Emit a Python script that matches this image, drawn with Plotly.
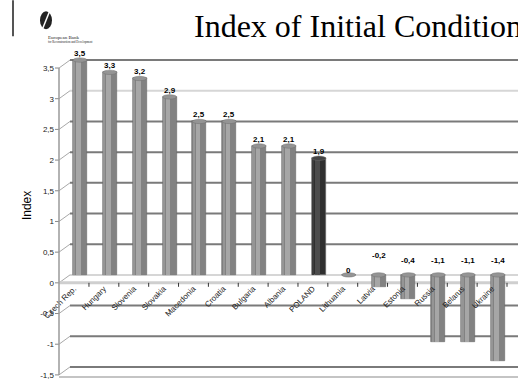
import plotly.graph_objects as go

# --- data -------------------------------------------------------------
countries = ["Czech Rep.", "Hungary", "Slovenia", "Slovakia", "Macedonia", "Croatia",
             "Bulgaria", "Albania", "POLAND", "Lithuania", "Latvia", "Estonia",
             "Russia", "Belarus", "Ukraine"]
index_values = [3.5, 3.3, 3.2, 2.9, 2.5, 2.5, 2.1, 2.1, 1.9, 0, -0.2, -0.4, -1.1, -1.1, -1.4]
highlight_country = "POLAND"
y_ticks = [3.5, 3, 2.5, 2, 1.5, 1, 0.5, 0, -0.5, -1, -1.5]
y_tick_text = ["3,5", "3", "2,5", "2", "1,5", "1", "0,5", "0", "-0,5", "-1", "-1,5"]

# --- geometry ---------------------------------------------------------
W, H = 518, 380
ML, MR, MT, MB = 55, 0, 57, 0
PW, PH = W - ML - MR, H - MT - MB
X_SCALE = 29.86                      # px per category
X0 = -(80 - ML) / X_SCALE            # first category centred at 80 px
X1 = X0 + PW / X_SCALE
Y0, Y1 = -1.68, 3.55
Y_PER_PX = (Y1 - Y0) / PH
X_PER_PX = (X1 - X0) / PW
DEPTH = 8 * Y_PER_PX                 # vertical offset of the back wall
AXIS_X = X0 + (59 - ML) * X_PER_PX   # front axis line
WALL_X = X0 + (70 - ML) * X_PER_PX   # back wall start


def px_x(px):
    return (px - ML) / PW


def px_y(py):
    return (H - MB - py) / PH


xs = list(range(len(countries)))
body_col = ["#2f2f2f" if c == highlight_country else "#828282" for c in countries]
shine_col = ["#4c4c4c" if c == highlight_country else "#a6a6a6" for c in countries]
edge_col = ["#3c3c3c" if c == highlight_country else "#959595" for c in countries]
cap_col = ["#444444" if c == highlight_country else "#949494" for c in countries]

fig = go.Figure()
fig.add_trace(go.Bar(x=xs, y=index_values, width=0.47, marker_color=body_col,
                     marker_line=dict(color="#686868", width=0.6), hoverinfo="skip"))
fig.add_trace(go.Bar(x=xs, y=index_values, width=0.07, offset=-0.225,
                     marker_color=edge_col, marker_line_width=0, hoverinfo="skip"))
fig.add_trace(go.Bar(x=xs, y=index_values, width=0.15, offset=-0.12,
                     marker_color=shine_col, marker_line_width=0, hoverinfo="skip"))

shapes = []
# back-wall gridlines and the diagonal ticks joining them to the front axis
for v in y_ticks:
    col = "#d6d6d6" if v in (3, 0) else "#7a7a7a"
    shapes.append(dict(type="line", xref="x", yref="y", x0=WALL_X, x1=X1, y0=v, y1=v,
                       line=dict(color=col, width=2), layer="below"))
    shapes.append(dict(type="line", xref="x", yref="y", x0=AXIS_X, x1=WALL_X,
                       y0=v - DEPTH, y1=v, line=dict(color="#a8a8a8", width=1), layer="below"))
    shapes.append(dict(type="line", xref="x", yref="y", x0=AXIS_X - 4 * X_PER_PX, x1=AXIS_X,
                       y0=v - DEPTH, y1=v - DEPTH, line=dict(color="#888888", width=1)))
# front value axis
shapes.append(dict(type="line", xref="x", yref="y", x0=AXIS_X, x1=AXIS_X,
                   y0=-1.5 - DEPTH, y1=3.5 - DEPTH, line=dict(color="#9a9a9a", width=1.5)))
# floor at zero and at the bottom
shapes.append(dict(type="line", xref="x", yref="y", x0=AXIS_X, x1=X1, y0=-DEPTH, y1=-DEPTH,
                   line=dict(color="#cfcfcf", width=3), layer="below"))
shapes.append(dict(type="line", xref="x", yref="y", x0=AXIS_X, x1=X1,
                   y0=-1.5 - 1.4 * DEPTH, y1=-1.5 - 1.4 * DEPTH,
                   line=dict(color="#c4c4c4", width=4), layer="below"))
# category tick marks
for i in xs:
    shapes.append(dict(type="line", xref="x", yref="y", x0=i + 0.3, x1=i + 0.3,
                       y0=-DEPTH, y1=-DEPTH - 4 * Y_PER_PX, line=dict(color="#333333", width=1)))
# cylinder caps
for i, v in enumerate(index_values):
    top = max(v, 0)
    shapes.append(dict(type="circle", xref="x", yref="y", x0=i - 0.235, x1=i + 0.235,
                       y0=top - 2.2 * Y_PER_PX, y1=top + 2.2 * Y_PER_PX,
                       fillcolor=cap_col[i], line=dict(color="#707070", width=0.5)))

# EBRD mark
shapes.append(dict(type="line", xref="paper", yref="paper", x0=px_x(13), x1=px_x(13),
                   y0=px_y(0), y1=px_y(36), line=dict(color="#555555", width=2)))
shapes.append(dict(type="circle", xref="paper", yref="paper", x0=px_x(40), x1=px_x(52),
                   y0=px_y(29), y1=px_y(11), fillcolor="#222222", line_width=0))
shapes.append(dict(type="line", xref="paper", yref="paper", x0=px_x(50), x1=px_x(42),
                   y0=px_y(10), y1=px_y(30), line=dict(color="white", width=1.5)))

annotations = []
for i, v in enumerate(index_values):
    txt = "0" if v == 0 else f"{v:.1f}".replace(".", ",")
    if v > 0:
        annotations.append(dict(x=i, y=v, xref="x", yref="y", text=f"<b>{txt}</b>",
                                showarrow=False, yanchor="bottom", yshift=0,
                                font=dict(family="Arial", size=8, color="black")))
    else:
        lift = 4 if v == 0 else (19 if v > -0.3 else 14)
        annotations.append(dict(x=i, y=0, xref="x", yref="y", text=f"<b>{txt}</b>",
                                showarrow=False, yanchor="middle", yshift=lift,
                                font=dict(family="Arial", size=8, color="black")))

annotations.append(dict(x=px_x(192), y=px_y(26), xref="paper", yref="paper",
                        text="Index of Initial Conditions", showarrow=False,
                        xanchor="left", yanchor="middle",
                        font=dict(family="Liberation Serif", size=32, color="black")))
annotations.append(dict(x=px_x(18), y=px_y(207), xref="paper", yref="paper", text="Index",
                        textangle=-90, showarrow=False,
                        font=dict(family="Arial", size=12, color="black")))
annotations.append(dict(x=px_x(46), y=px_y(33), xref="paper", yref="paper",
                        text="European Bank", showarrow=False,
                        font=dict(family="Liberation Serif", size=5, color="#222222")))
annotations.append(dict(x=px_x(46), y=px_y(38), xref="paper", yref="paper",
                        text="for Reconstruction and Development", showarrow=False,
                        font=dict(family="Liberation Serif", size=3, color="#222222")))

fig.update_layout(
    width=W, height=H,
    margin=dict(l=ML, r=MR, t=MT, b=MB, pad=0),
    paper_bgcolor="white", plot_bgcolor="white",
    barmode="overlay", bargap=0, showlegend=False,
    shapes=shapes, annotations=annotations,
    xaxis=dict(range=[X0, X1], tickmode="array", tickvals=xs, ticktext=countries,
               tickangle=-45, showgrid=False, zeroline=False, showline=False,
               anchor="free", position=px_y(283), ticklabelshift=-6,
               tickfont=dict(family="Arial", size=8, color="#222222")),
    yaxis=dict(range=[Y0, Y1], tickmode="array", tickvals=y_ticks, ticktext=y_tick_text,
               showgrid=False, zeroline=False, showline=False, ticks="",
               ticklabelshift=8, ticklabelstandoff=0, ticklabeloverflow="allow",
               tickfont=dict(family="Arial", size=8, color="#222222")),
)

fig.write_html("out.html")
